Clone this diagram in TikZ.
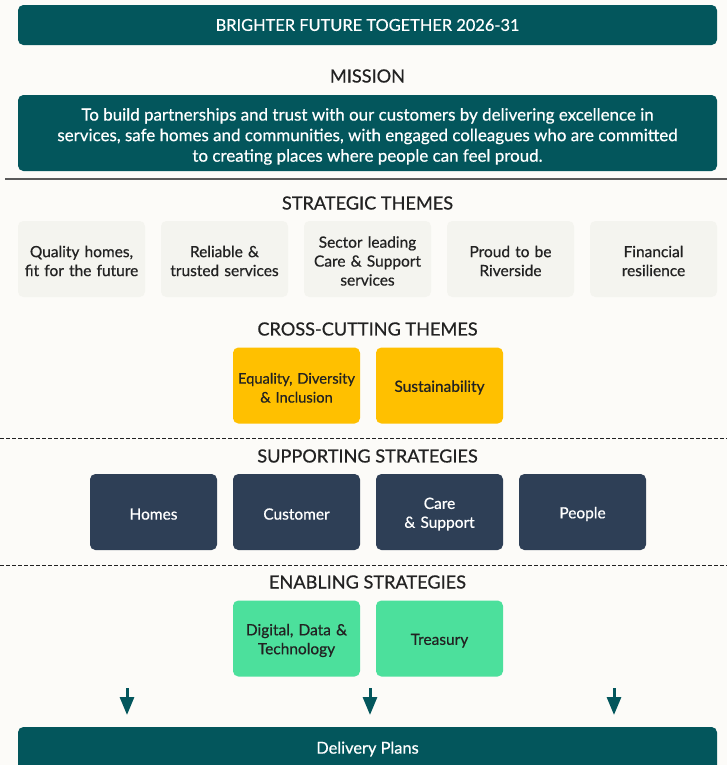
\documentclass[tikz,border=0pt]{standalone}
\usepackage{fontspec}
\setmainfont{Lato}[FakeBold=0.6]
\usetikzlibrary{arrows.meta,positioning}

\definecolor{rvteal}{HTML}{03565C}
\definecolor{rvnavy}{HTML}{2E3F56}
\definecolor{rvgold}{HTML}{FFC000}
\definecolor{rvmint}{HTML}{4CE09C}
\definecolor{rvpale}{HTML}{F4F4EF}
\definecolor{rvpaper}{HTML}{FCFBF8}
\definecolor{rvink}{HTML}{222222}
\definecolor{rvrule}{HTML}{5A5A5A}

\begin{document}
\begin{tikzpicture}[x=0.75pt,y=-0.75pt,
	banner/.style={rounded corners=4pt,fill=rvteal,text=white,minimum width=524.25pt,align=center,outer sep=0pt},
	heading/.style={text=rvink,font=\fontsize{13.6}{16}\selectfont},
	tile/.style={rounded corners=4pt,minimum height=57pt,text width=91.25pt,inner xsep=2pt,inner ysep=2pt,align=center,outer sep=0pt,text=rvink,font=\fontsize{11.6}{14.2}\selectfont,execute at begin node={\rule{0pt}{11.5pt}}},
	theme/.style={tile,fill=rvpale},
	cross/.style={tile,fill=rvgold},
	support/.style={tile,fill=rvnavy,text=white},
	enable/.style={tile,fill=rvmint},
	flow/.style={-{Triangle[length=13.5pt,width=10.5pt]},line width=2.25pt,rvteal},
	split/.style={rvink,line width=0.6pt,dash pattern=on 3pt off 1.5pt}]

	%page
	\useasboundingbox[fill=rvpaper] (0,0) rectangle (727,765);

	%top banner and mission
	\node[banner,minimum height=30pt,font=\fontsize{12.3}{15}\selectfont] (title) at (367.5,25) {BRIGHTER FUTURE TOGETHER 2026-31};
	\node[heading] (mission) at (367.5,76) {MISSION};
	\node[banner,minimum height=57pt,font=\fontsize{12.7}{15.4}\selectfont] (statement) at (367.5,133)
		{\rule{0pt}{14.5pt}To build partnerships and trust with our customers by delivering excellence in\\
		 services, safe homes and communities, with engaged colleagues who are committed\\
		 to creating places where people can feel proud.};

	\draw [rvrule,line width=1.2pt] (5,179) -- (727,179);

	%strategic themes
	\node[heading] (strategic) at (367.5,203) {STRATEGIC THEMES};
	\node[theme] (quality) at (81.5,259) {Quality homes,\\fit for the future};
	\node[theme,right=12pt of quality] (reliable) {Reliable \&\\trusted services};
	\node[theme,right=12pt of reliable] (sector) {Sector leading\\Care \& Support\\services};
	\node[theme,right=12pt of sector] (proud) {Proud to be\\Riverside};
	\node[theme,right=12pt of proud] (finance) {Financial\\resilience};

	%cross-cutting themes
	\node[heading] (crosscut) at (367.5,329) {CROSS-CUTTING THEMES};
	\node[cross,font=\fontsize{11}{14.2}\selectfont] (equality) at (296.5,385.5) {Equality, Diversity\\\& Inclusion};
	\node[cross,right=12pt of equality] (sustain) {Sustainability};

	\draw [split] (0,438) -- (727,438);

	%supporting strategies
	\node[heading] (supporting) at (367.5,456) {SUPPORTING STRATEGIES};
	\node[support] (homes) at (153.5,512) {Homes};
	\node[support,right=12pt of homes] (customer) {Customer};
	\node[support,right=12pt of customer] (care) {Care\\\& Support};
	\node[support,right=12pt of care] (people) {People};

	\draw [split] (0,565) -- (727,565);

	%enabling strategies
	\node[heading] (enabling) at (367.5,582) {ENABLING STRATEGIES};
	\node[enable] (digital) at (296.5,638.5) {Digital, Data \&\\Technology};
	\node[enable,right=12pt of digital] (treasury) {Treasury};

	%delivery plans
	\fill[rvteal,rounded corners=4pt] (18,727) rectangle (717,790);
	\node[text=white,font=\fontsize{12.3}{15}\selectfont] (delivery) at (367.5,749) {Delivery Plans};

	\foreach \ax [count=\i] in {127,370,614} {
		\coordinate (top\i) at (\ax,688);
		\coordinate (tip\i) at (\ax,715);
		\draw[flow] (top\i) -- (tip\i);
	}

\end{tikzpicture}
\end{document}
